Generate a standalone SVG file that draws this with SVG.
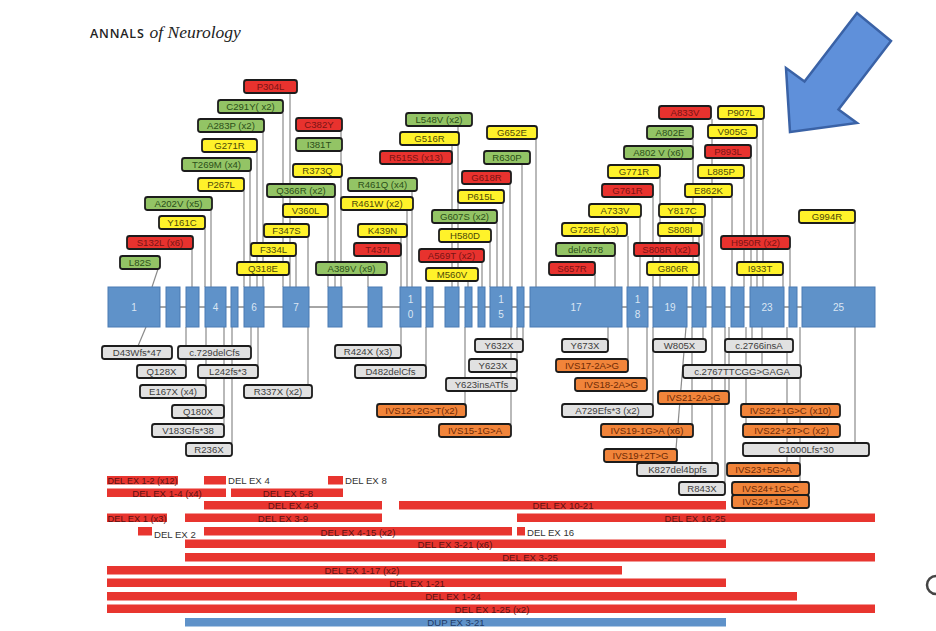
<svg xmlns="http://www.w3.org/2000/svg" width="936" height="631" viewBox="0 0 936 631">
<style>
  .lbl rect{stroke:#1c1c1c;stroke-width:1.8px;rx:2.5px;ry:2.5px}
  .lbl text{font-family:"Liberation Sans",Arial,sans-serif;font-size:9.6px;text-anchor:middle}
  .r rect{fill:#e8322e}.r text{fill:#7a1414}
  .g rect{fill:#93c465}.g text{fill:#2b4f19}
  .y rect{fill:#fff22a}.y text{fill:#4d4a08}
  .s rect{fill:#e1e1e1}.s text{fill:#3d3d3d}
  .o rect{fill:#f1843a}.o text{fill:#6e2a05}
  .ex rect{fill:#5f92c9;stroke:#4a7bb3;stroke-width:1}
  .ex text{font-family:"Liberation Sans",Arial,sans-serif;font-size:10px;fill:#dbe6f3;text-anchor:middle}
  .con line{stroke:#8a8a8a;stroke-width:1.2}
  .bar rect{fill:#e8352f}
  .bar rect.dup{fill:#5f92c9}
  .bar text{font-family:"Liberation Sans",Arial,sans-serif;font-size:9.6px;fill:#5a1212;text-anchor:middle}
  .bar text.out{fill:#333;text-anchor:start}
  .bar text.dupt{fill:#1f3b66}
</style>
<rect width="936" height="631" fill="#ffffff"/>

<!-- journal header -->
<text x="90" y="38" fill="#222"><tspan font-family="Open Sans, Liberation Sans, sans-serif" font-weight="600" font-size="12.5" letter-spacing="0.8">ANNALS</tspan><tspan dx="5" font-family="Liberation Serif, Times New Roman, serif" font-style="italic" font-size="17.5">of Neurology</tspan></text>

<!-- pointer arrow -->
<polygon id="arrow" points="790,132 857,123 838.5,109.4 891,41 857,13 804.5,81.6 786,68" fill="#5f90da" stroke="#3a62a6" stroke-width="2.5" stroke-linejoin="miter"/>

<!-- connectors between variant labels and exons -->
<g id="connectors" class="con">
  <!-- upper (missense) -->
  <line x1="290" y1="93" x2="290" y2="287"/>
  <line x1="283" y1="113" x2="283" y2="287"/>
  <line x1="263" y1="132" x2="263" y2="287"/>
  <line x1="257" y1="152" x2="257" y2="287"/>
  <line x1="250" y1="171" x2="250" y2="287"/>
  <line x1="244" y1="191" x2="244" y2="287"/>
  <line x1="211" y1="210" x2="211" y2="287"/>
  <line x1="205" y1="229" x2="205" y2="287"/>
  <line x1="192" y1="249" x2="192" y2="287"/>
  <line x1="158" y1="269" x2="152" y2="287"/>
  <line x1="341" y1="131" x2="341" y2="287"/>
  <line x1="335" y1="197" x2="335" y2="287"/>
  <line x1="328" y1="217" x2="328" y2="287"/>
  <line x1="308" y1="237" x2="308" y2="287"/>
  <line x1="296" y1="256" x2="296" y2="287"/>
  <line x1="368" y1="275" x2="368" y2="287"/>
  <line x1="412" y1="191" x2="412" y2="287"/>
  <line x1="407" y1="210" x2="407" y2="287"/>
  <line x1="401" y1="237" x2="401" y2="287"/>
  <line x1="458" y1="126" x2="458" y2="287"/>
  <line x1="452" y1="145" x2="452" y2="287"/>
  <line x1="536" y1="139" x2="536" y2="287"/>
  <line x1="522" y1="164" x2="522" y2="287"/>
  <line x1="510" y1="184" x2="510" y2="287"/>
  <line x1="503" y1="203" x2="503" y2="287"/>
  <line x1="497" y1="223" x2="497" y2="287"/>
  <line x1="490" y1="242" x2="490" y2="287"/>
  <line x1="482" y1="262" x2="482" y2="287"/>
  <line x1="468" y1="281" x2="468" y2="287"/>
  <line x1="712" y1="119" x2="712" y2="287"/>
  <line x1="693" y1="139" x2="693" y2="287"/>
  <line x1="660" y1="178" x2="660" y2="287"/>
  <line x1="653" y1="197" x2="653" y2="287"/>
  <line x1="640" y1="217" x2="640" y2="287"/>
  <line x1="628" y1="236" x2="628" y2="287"/>
  <line x1="615" y1="256" x2="615" y2="287"/>
  <line x1="595" y1="275" x2="595" y2="287"/>
  <line x1="704" y1="217" x2="704" y2="287"/>
  <line x1="699" y1="236" x2="699" y2="287"/>
  <line x1="732" y1="197" x2="732" y2="287"/>
  <line x1="763" y1="119" x2="763" y2="287"/>
  <line x1="757" y1="138" x2="757" y2="287"/>
  <line x1="751" y1="158" x2="751" y2="287"/>
  <line x1="744" y1="178" x2="744" y2="287"/>
  <line x1="790" y1="249" x2="790" y2="287"/>
  <line x1="783" y1="275" x2="783" y2="287"/>
  <line x1="855" y1="223" x2="855" y2="287"/>
  <!-- lower (truncating / splice) -->
  <line x1="146" y1="327" x2="138" y2="346"/>
  <line x1="251" y1="327" x2="251" y2="346"/>
  <line x1="186" y1="327" x2="186" y2="365"/>
  <line x1="258" y1="327" x2="258" y2="365"/>
  <line x1="206" y1="327" x2="206" y2="385"/>
  <line x1="308" y1="327" x2="308" y2="385"/>
  <line x1="224" y1="327" x2="224" y2="424"/>
  <line x1="232" y1="327" x2="232" y2="443"/>
  <line x1="401" y1="327" x2="401" y2="345"/>
  <line x1="426" y1="327" x2="426" y2="365"/>
  <line x1="523" y1="327" x2="523" y2="339"/>
  <line x1="517" y1="327" x2="517" y2="378"/>
  <line x1="465" y1="327" x2="465" y2="404"/>
  <line x1="511" y1="327" x2="511" y2="424"/>
  <line x1="608" y1="327" x2="608" y2="339"/>
  <line x1="628" y1="327" x2="628" y2="359"/>
  <line x1="647" y1="327" x2="647" y2="378"/>
  <line x1="653" y1="327" x2="653" y2="404"/>
  <line x1="692" y1="327" x2="692" y2="424"/>
  <line x1="686" y1="327" x2="676" y2="449"/>
  <line x1="703" y1="327" x2="703" y2="339"/>
  <line x1="752" y1="327" x2="752" y2="339"/>
  <line x1="762" y1="327" x2="762" y2="365"/>
  <line x1="729" y1="327" x2="729" y2="391"/>
  <line x1="746" y1="327" x2="746" y2="424"/>
  <line x1="855" y1="327" x2="855" y2="443"/>
  <line x1="712" y1="327" x2="712" y2="463"/>
  <line x1="787" y1="327" x2="787" y2="463"/>
  <line x1="725" y1="327" x2="725" y2="482"/>
  <line x1="800" y1="327" x2="800" y2="482"/>
</g>

<!-- gene: intron backbone and exons -->
<g id="gene" class="ex">
  <line x1="160" y1="307" x2="802" y2="307" stroke="#4d4d4d" stroke-width="1"/>
  <g id="ex1"><rect x="108" y="287" width="52" height="40"/><text x="134" y="311">1</text></g>
  <g id="ex2"><rect x="166" y="287" width="14" height="40"/></g>
  <g id="ex3"><rect x="186" y="287" width="13" height="40"/></g>
  <g id="ex4"><rect x="205" y="287" width="21" height="40"/><text x="215.5" y="311">4</text></g>
  <g id="ex5"><rect x="231" y="287" width="7" height="40"/></g>
  <g id="ex6"><rect x="244" y="287" width="20" height="40"/><text x="254" y="311">6</text></g>
  <g id="ex7"><rect x="283" y="287" width="26" height="40"/><text x="296" y="311">7</text></g>
  <g id="ex8"><rect x="328" y="287" width="14" height="40"/></g>
  <g id="ex9"><rect x="368" y="287" width="14" height="40"/></g>
  <g id="ex10"><rect x="400" y="287" width="21" height="40"/><text x="410.5" y="303">1</text><text x="410.5" y="318">0</text></g>
  <g id="ex11"><rect x="426" y="287" width="7" height="40"/></g>
  <g id="ex12"><rect x="445" y="287" width="14" height="40"/></g>
  <g id="ex13"><rect x="465" y="287" width="7" height="40"/></g>
  <g id="ex14"><rect x="478" y="287" width="7" height="40"/></g>
  <g id="ex15"><rect x="490" y="287" width="22" height="40"/><text x="501" y="303">1</text><text x="501" y="318">5</text></g>
  <g id="ex16"><rect x="517" y="287" width="7" height="40"/></g>
  <g id="ex17"><rect x="530" y="287" width="92" height="40"/><text x="576" y="311">17</text></g>
  <g id="ex18"><rect x="627" y="287" width="21" height="40"/><text x="637.5" y="303">1</text><text x="637.5" y="318">8</text></g>
  <g id="ex19"><rect x="653" y="287" width="34" height="40"/><text x="670" y="311">19</text></g>
  <g id="ex20"><rect x="692" y="287" width="14" height="40"/></g>
  <g id="ex21"><rect x="712" y="287" width="13" height="40"/></g>
  <g id="ex22"><rect x="731" y="287" width="13" height="40"/></g>
  <g id="ex23"><rect x="750" y="287" width="34" height="40"/><text x="767" y="311">23</text></g>
  <g id="ex24"><rect x="789" y="287" width="8" height="40"/></g>
  <g id="ex25"><rect x="802" y="287" width="73" height="40"/><text x="838.5" y="311">25</text></g>
</g>

<!-- missense variants above the gene -->
<g id="v_P304L" class="lbl r"><rect x="244" y="80" width="53" height="13"/><text x="270.5" y="90">P304L</text></g>
<g id="v_C291Y" class="lbl g"><rect x="218" y="100" width="65" height="13"/><text x="250.5" y="110">C291Y( x2)</text></g>
<g id="v_A283P" class="lbl g"><rect x="198" y="119" width="66" height="13"/><text x="231" y="129">A283P (x2)</text></g>
<g id="v_G271R" class="lbl y"><rect x="202" y="139" width="55" height="13"/><text x="229.5" y="149">G271R</text></g>
<g id="v_T269M" class="lbl g"><rect x="182" y="158" width="69" height="13"/><text x="216.5" y="168">T269M (x4)</text></g>
<g id="v_P267L" class="lbl y"><rect x="198" y="178" width="46" height="13"/><text x="221" y="188">P267L</text></g>
<g id="v_A202V" class="lbl g"><rect x="145" y="197" width="67" height="13"/><text x="178.5" y="207">A202V (x5)</text></g>
<g id="v_Y161C" class="lbl y"><rect x="159" y="216" width="46" height="13"/><text x="182" y="226">Y161C</text></g>
<g id="v_S132L" class="lbl r"><rect x="127" y="236" width="66" height="13"/><text x="160" y="246">S132L (x6)</text></g>
<g id="v_L82S" class="lbl g"><rect x="120" y="256" width="40" height="13"/><text x="140" y="266">L82S</text></g>
<g id="v_C382Y" class="lbl r"><rect x="296" y="118" width="46" height="13"/><text x="319" y="128">C382Y</text></g>
<g id="v_I381T" class="lbl g"><rect x="296" y="138" width="46" height="13"/><text x="319" y="148">I381T</text></g>
<g id="v_R373Q" class="lbl y"><rect x="293" y="164" width="49" height="13"/><text x="317.5" y="174">R373Q</text></g>
<g id="v_Q366R" class="lbl g"><rect x="267" y="184" width="68" height="13"/><text x="301" y="194">Q366R (x2)</text></g>
<g id="v_V360L" class="lbl y"><rect x="283" y="204" width="45" height="13"/><text x="305.5" y="214">V360L</text></g>
<g id="v_F347S" class="lbl y"><rect x="264" y="224" width="45" height="13"/><text x="286.5" y="234">F347S</text></g>
<g id="v_F334L" class="lbl y"><rect x="251" y="243" width="45" height="13"/><text x="273.5" y="253">F334L</text></g>
<g id="v_Q318E" class="lbl y"><rect x="237" y="262" width="52" height="13"/><text x="263" y="272">Q318E</text></g>
<g id="v_A389V" class="lbl g"><rect x="316" y="262" width="71" height="13"/><text x="351.5" y="272">A389V (x9)</text></g>
<g id="v_R461Q" class="lbl g"><rect x="348" y="178" width="69" height="13"/><text x="382.5" y="188">R461Q (x4)</text></g>
<g id="v_R461W" class="lbl y"><rect x="341" y="197" width="72" height="13"/><text x="377" y="207">R461W (x2)</text></g>
<g id="v_K439N" class="lbl y"><rect x="358" y="224" width="49" height="13"/><text x="382.5" y="234">K439N</text></g>
<g id="v_T437I" class="lbl r"><rect x="354" y="243" width="47" height="13"/><text x="377.5" y="253">T437I</text></g>
<g id="v_L548V" class="lbl g"><rect x="406" y="113" width="66" height="13"/><text x="439" y="123">L548V (x2)</text></g>
<g id="v_G516R" class="lbl y"><rect x="400" y="132" width="59" height="13"/><text x="429.5" y="142">G516R</text></g>
<g id="v_R515S" class="lbl r"><rect x="380" y="151" width="72" height="13"/><text x="416" y="161">R515S (x13)</text></g>
<g id="v_G652E" class="lbl y"><rect x="487" y="126" width="50" height="13"/><text x="512" y="136">G652E</text></g>
<g id="v_R630P" class="lbl g"><rect x="484" y="151" width="46" height="13"/><text x="507" y="161">R630P</text></g>
<g id="v_G618R" class="lbl r"><rect x="462" y="171" width="49" height="13"/><text x="486.5" y="181">G618R</text></g>
<g id="v_P615L" class="lbl y"><rect x="458" y="190" width="46" height="13"/><text x="481" y="200">P615L</text></g>
<g id="v_G607S" class="lbl g"><rect x="432" y="210" width="65" height="13"/><text x="464.5" y="220">G607S (x2)</text></g>
<g id="v_H580D" class="lbl y"><rect x="439" y="229" width="52" height="13"/><text x="465" y="239">H580D</text></g>
<g id="v_A569T" class="lbl r"><rect x="419" y="249" width="65" height="13"/><text x="451.5" y="259">A569T (x2)</text></g>
<g id="v_M560V" class="lbl y"><rect x="426" y="268" width="52" height="13"/><text x="452" y="278">M560V</text></g>
<g id="v_A833V" class="lbl r"><rect x="659" y="106" width="52" height="13"/><text x="685" y="116">A833V</text></g>
<g id="v_A802E" class="lbl g"><rect x="647" y="126" width="46" height="13"/><text x="670" y="136">A802E</text></g>
<g id="v_A802V" class="lbl g"><rect x="624" y="146" width="69" height="13"/><text x="658.5" y="156">A802 V (x6)</text></g>
<g id="v_G771R" class="lbl y"><rect x="608" y="165" width="52" height="13"/><text x="634" y="175">G771R</text></g>
<g id="v_G761R" class="lbl r"><rect x="602" y="184" width="51" height="13"/><text x="627.5" y="194">G761R</text></g>
<g id="v_A733V" class="lbl y"><rect x="589" y="204" width="52" height="13"/><text x="615" y="214">A733V</text></g>
<g id="v_G728E" class="lbl y"><rect x="562" y="223" width="65" height="13"/><text x="594.5" y="233">G728E (x3)</text></g>
<g id="v_delA678" class="lbl g"><rect x="556" y="243" width="59" height="13"/><text x="585.5" y="253">delA678</text></g>
<g id="v_S657R" class="lbl r"><rect x="549" y="262" width="46" height="13"/><text x="572" y="272">S657R</text></g>
<g id="v_Y817C" class="lbl y"><rect x="659" y="204" width="46" height="13"/><text x="682" y="214">Y817C</text></g>
<g id="v_S808I" class="lbl y"><rect x="658" y="223" width="44" height="13"/><text x="680" y="233">S808I</text></g>
<g id="v_S808R" class="lbl r"><rect x="634" y="243" width="65" height="13"/><text x="666.5" y="253">S808R (x2)</text></g>
<g id="v_G806R" class="lbl y"><rect x="647" y="262" width="52" height="13"/><text x="673" y="272">G806R</text></g>
<g id="v_E862K" class="lbl y"><rect x="685" y="184" width="47" height="13"/><text x="708.5" y="194">E862K</text></g>
<g id="v_P907L" class="lbl y"><rect x="718" y="106" width="46" height="13"/><text x="741" y="116">P907L</text></g>
<g id="v_V905G" class="lbl y"><rect x="708" y="125" width="49" height="13"/><text x="732.5" y="135">V905G</text></g>
<g id="v_P893L" class="lbl r"><rect x="705" y="145" width="46" height="13"/><text x="728" y="155">P893L</text></g>
<g id="v_L885P" class="lbl y"><rect x="698" y="165" width="46" height="13"/><text x="721" y="175">L885P</text></g>
<g id="v_H950R" class="lbl r"><rect x="721" y="236" width="69" height="13"/><text x="755.5" y="246">H950R (x2)</text></g>
<g id="v_I933T" class="lbl y"><rect x="737" y="262" width="46" height="13"/><text x="760" y="272">I933T</text></g>
<g id="v_G994R" class="lbl y"><rect x="799" y="210" width="56" height="13"/><text x="827" y="220">G994R</text></g>

<!-- truncating and splice variants below the gene -->
<g id="v_D43Wfs" class="lbl s"><rect x="102" y="346" width="70" height="13"/><text x="137" y="356">D43Wfs*47</text></g>
<g id="v_c729delC" class="lbl s"><rect x="178" y="346" width="73" height="13"/><text x="214.5" y="356">c.729delCfs</text></g>
<g id="v_Q128X" class="lbl s"><rect x="137" y="365" width="49" height="13"/><text x="161.5" y="375">Q128X</text></g>
<g id="v_L242fs" class="lbl s"><rect x="198" y="365" width="60" height="13"/><text x="228" y="375">L242fs*3</text></g>
<g id="v_E167X" class="lbl s"><rect x="140" y="385" width="66" height="13"/><text x="173" y="395">E167X (x4)</text></g>
<g id="v_R337X" class="lbl s"><rect x="244" y="385" width="68" height="13"/><text x="278" y="395">R337X (x2)</text></g>
<g id="v_Q180X" class="lbl s"><rect x="172" y="405" width="52" height="13"/><text x="198" y="415">Q180X</text></g>
<g id="v_V183Gfs" class="lbl s"><rect x="152" y="424" width="72" height="13"/><text x="188" y="434">V183Gfs*38</text></g>
<g id="v_R236X" class="lbl s"><rect x="186" y="443" width="46" height="13"/><text x="209" y="453">R236X</text></g>
<g id="v_R424X" class="lbl s"><rect x="335" y="345" width="66" height="13"/><text x="368" y="355">R424X (x3)</text></g>
<g id="v_D482delC" class="lbl s"><rect x="355" y="365" width="71" height="13"/><text x="390.5" y="375">D482delCfs</text></g>
<g id="v_Y632X" class="lbl s"><rect x="475" y="339" width="48" height="13"/><text x="499" y="349">Y632X</text></g>
<g id="v_Y623X" class="lbl s"><rect x="469" y="359" width="48" height="13"/><text x="493" y="369">Y623X</text></g>
<g id="v_Y623ins" class="lbl s"><rect x="446" y="378" width="71" height="13"/><text x="481.5" y="388">Y623insATfs</text></g>
<g id="v_IVS12" class="lbl o"><rect x="377" y="404" width="89" height="13"/><text x="421.5" y="414">IVS12+2G&gt;T(x2)</text></g>
<g id="v_IVS15" class="lbl o"><rect x="439" y="424" width="72" height="13"/><text x="475" y="434">IVS15-1G&gt;A</text></g>
<g id="v_Y673X" class="lbl s"><rect x="562" y="339" width="46" height="13"/><text x="585" y="349">Y673X</text></g>
<g id="v_IVS17" class="lbl o"><rect x="556" y="359" width="72" height="13"/><text x="592" y="369">IVS17-2A&gt;G</text></g>
<g id="v_IVS18" class="lbl o"><rect x="575" y="378" width="72" height="13"/><text x="611" y="388">IVS18-2A&gt;G</text></g>
<g id="v_A729Efs" class="lbl s"><rect x="562" y="404" width="91" height="13"/><text x="607.5" y="414">A729Efs*3 (x2)</text></g>
<g id="v_IVS19m1" class="lbl o"><rect x="601" y="424" width="92" height="13"/><text x="647" y="434">IVS19-1G&gt;A (x6)</text></g>
<g id="v_IVS19p2" class="lbl o"><rect x="604" y="449" width="73" height="13"/><text x="640.5" y="459">IVS19+2T&gt;G</text></g>
<g id="v_W805X" class="lbl s"><rect x="653" y="339" width="53" height="13"/><text x="679.5" y="349">W805X</text></g>
<g id="v_c2766ins" class="lbl s"><rect x="725" y="339" width="68" height="13"/><text x="759" y="349">c.2766insA</text></g>
<g id="v_c2767" class="lbl s"><rect x="683" y="365" width="118" height="13"/><text x="742" y="375">c.2767TTCGG&gt;GAGA</text></g>
<g id="v_IVS21" class="lbl o"><rect x="658" y="391" width="71" height="13"/><text x="693.5" y="401">IVS21-2A&gt;G</text></g>
<g id="v_IVS22p1" class="lbl o"><rect x="741" y="404" width="99" height="13"/><text x="790.5" y="414">IVS22+1G&gt;C (x10)</text></g>
<g id="v_IVS22p2" class="lbl o"><rect x="743" y="424" width="97" height="13"/><text x="791.5" y="434">IVS22+2T&gt;C (x2)</text></g>
<g id="v_C1000Lfs" class="lbl s"><rect x="743" y="443" width="126" height="13"/><text x="806" y="453">C1000Lfs*30</text></g>
<g id="v_K827del" class="lbl s"><rect x="637" y="463" width="81" height="13"/><text x="677.5" y="473">K827del4bpfs</text></g>
<g id="v_IVS23" class="lbl o"><rect x="727" y="463" width="73" height="13"/><text x="763.5" y="473">IVS23+5G&gt;A</text></g>
<g id="v_R843X" class="lbl s"><rect x="679" y="482" width="46" height="13"/><text x="702" y="492">R843X</text></g>
<g id="v_IVS24C" class="lbl o"><rect x="732" y="482" width="77" height="13"/><text x="770.5" y="492">IVS24+1G&gt;C</text></g>
<g id="v_IVS24A" class="lbl o"><rect x="732" y="495" width="77" height="13"/><text x="770.5" y="505">IVS24+1G&gt;A</text></g>

<!-- large deletions and duplication -->
<g id="rearrangements" class="bar">
  <rect x="107" y="476" width="71" height="8.5"/><text x="142.5" y="484" textLength="70" lengthAdjust="spacingAndGlyphs">DEL EX 1-2 (x12)</text>
  <rect x="204" y="476" width="22" height="8.5"/><text class="out" x="228" y="484">DEL EX 4</text>
  <rect x="328" y="476" width="15" height="8.5"/><text class="out" x="345" y="484">DEL EX 8</text>

  <rect x="107" y="488.5" width="119" height="8.5"/><text x="167" y="496.5">DEL EX 1-4 (x4)</text>
  <rect x="231" y="488.5" width="112" height="8.5"/><text x="288" y="496.5">DEL EX 5-8</text>

  <rect x="204" y="501" width="178" height="8.5"/><text x="293" y="509">DEL EX 4-9</text>
  <rect x="399" y="501" width="327" height="8.5"/><text x="563" y="509">DEL EX 10-21</text>

  <rect x="107" y="513.5" width="60" height="8.5"/><text x="137" y="521.5" textLength="59" lengthAdjust="spacingAndGlyphs">DEL EX 1 (x3)</text>
  <rect x="185" y="513.5" width="197" height="8.5"/><text x="283" y="521.5">DEL EX 3-9</text>
  <rect x="517" y="513.5" width="358" height="8.5"/><text x="695" y="521.5">DEL EX 16-25</text>

  <rect x="138" y="527" width="14" height="8.5"/><text class="out" x="154" y="538">DEL EX 2</text>
  <rect x="204" y="527" width="308" height="8.5"/><text x="358" y="535.5">DEL EX 4-15 (x2)</text>
  <rect x="517" y="527" width="8" height="8.5"/><text class="out" x="527" y="536">DEL EX 16</text>

  <rect x="185" y="539.5" width="541" height="8.5"/><text x="455" y="547.5">DEL EX 3-21 (x6)</text>
  <rect x="185" y="553" width="690" height="8.5"/><text x="530" y="561">DEL EX 3-25</text>
  <rect x="107" y="566" width="515" height="8.5"/><text x="362" y="574">DEL EX 1-17 (x2)</text>
  <rect x="107" y="578.5" width="619" height="8.5"/><text x="417" y="586.5">DEL EX 1-21</text>
  <rect x="107" y="592" width="690" height="8.5"/><text x="453" y="600">DEL EX 1-24</text>
  <rect x="107" y="604.5" width="768" height="8.5"/><text x="492" y="612.5">DEL EX 1-25 (x2)</text>
  <rect class="dup" x="185" y="618" width="541" height="8.5"/><text class="dupt" x="456" y="626">DUP EX 3-21</text>
</g>

<!-- edge mark at the right border -->
<path d="M936,576 A9,9 0 0 0 936,594" fill="none" stroke="#444" stroke-width="2.5"/>
</svg>
